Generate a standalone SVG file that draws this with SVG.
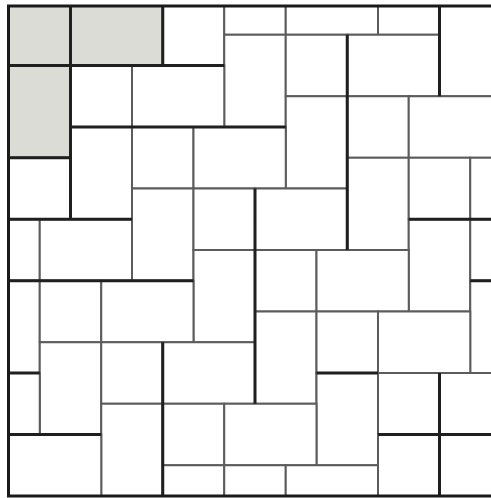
<svg xmlns="http://www.w3.org/2000/svg" width="491" height="498" viewBox="0 0 491 498">
<style>
.t{fill:#ffffff;stroke:#5c5c5c;stroke-width:2;vector-effect:non-scaling-stroke}
.g{fill:#dcdcd7}
.k{stroke:#1f1f1f;stroke-width:3;vector-effect:non-scaling-stroke;fill:none}
.f{stroke:#1a1a1a;stroke-width:3;fill:none}
</style>
<defs>
<clipPath id="frame"><rect x="9" y="6" width="482" height="490"/></clipPath>
</defs>
<rect x="0" y="0" width="491" height="498" fill="#ffffff"/>
<g id="tiles" clip-path="url(#frame)">
<g transform="translate(9 4) scale(30.75)">
<rect class="t" x="12" y="-2" width="2" height="3"/>
<rect class="t" x="14" y="0" width="2" height="3"/>
<rect class="t" x="5" y="-1" width="2" height="3"/>
<rect class="t" x="7" y="-1" width="2" height="2"/>
<rect class="t" x="9" y="-1" width="3" height="2"/>
<rect class="t" x="7" y="1" width="2" height="3"/>
<rect class="t" x="9" y="1" width="2" height="2"/>
<rect class="t" x="11" y="1" width="3" height="2"/>
<rect class="t" x="9" y="3" width="2" height="3"/>
<rect class="t" x="11" y="3" width="2" height="2"/>
<rect class="t" x="13" y="3" width="3" height="2"/>
<rect class="t" x="11" y="5" width="2" height="3"/>
<rect class="t" x="13" y="5" width="2" height="2"/>
<rect class="t" x="15" y="5" width="3" height="2"/>
<rect class="t" x="13" y="7" width="2" height="3"/>
<rect class="t" x="15" y="7" width="2" height="2"/>
<rect class="t" x="15" y="9" width="2" height="3"/>
<rect class="t g" x="0" y="0" width="2" height="2"/>
<rect class="t g" x="2" y="0" width="3" height="2"/>
<rect class="t g" x="0" y="2" width="2" height="3"/>
<rect class="t" x="2" y="2" width="2" height="2"/>
<rect class="t" x="4" y="2" width="3" height="2"/>
<rect class="t" x="2" y="4" width="2" height="3"/>
<rect class="t" x="4" y="4" width="2" height="2"/>
<rect class="t" x="6" y="4" width="3" height="2"/>
<rect class="t" x="4" y="6" width="2" height="3"/>
<rect class="t" x="6" y="6" width="2" height="2"/>
<rect class="t" x="8" y="6" width="3" height="2"/>
<rect class="t" x="6" y="8" width="2" height="3"/>
<rect class="t" x="8" y="8" width="2" height="2"/>
<rect class="t" x="10" y="8" width="3" height="2"/>
<rect class="t" x="8" y="10" width="2" height="3"/>
<rect class="t" x="10" y="10" width="2" height="2"/>
<rect class="t" x="12" y="10" width="3" height="2"/>
<rect class="t" x="10" y="12" width="2" height="3"/>
<rect class="t" x="12" y="12" width="2" height="2"/>
<rect class="t" x="14" y="12" width="3" height="2"/>
<rect class="t" x="12" y="14" width="2" height="3"/>
<rect class="t" x="14" y="14" width="2" height="2"/>
<rect class="t" x="-1" y="5" width="3" height="2"/>
<rect class="t" x="-1" y="7" width="2" height="2"/>
<rect class="t" x="1" y="7" width="3" height="2"/>
<rect class="t" x="-1" y="9" width="2" height="3"/>
<rect class="t" x="1" y="9" width="2" height="2"/>
<rect class="t" x="3" y="9" width="3" height="2"/>
<rect class="t" x="1" y="11" width="2" height="3"/>
<rect class="t" x="3" y="11" width="2" height="2"/>
<rect class="t" x="5" y="11" width="3" height="2"/>
<rect class="t" x="3" y="13" width="2" height="3"/>
<rect class="t" x="5" y="13" width="2" height="2"/>
<rect class="t" x="7" y="13" width="3" height="2"/>
<rect class="t" x="5" y="15" width="2" height="3"/>
<rect class="t" x="7" y="15" width="2" height="2"/>
<rect class="t" x="9" y="15" width="3" height="2"/>
<rect class="t" x="-2" y="12" width="3" height="2"/>
<rect class="t" x="0" y="14" width="3" height="2"/>
<path class="k" d="M2 0V7M5 0V2M0 2H7M2 4H9M0 5H2M0 7H4M0 9H6M0 12H1M0 14H3M5 11V16M11 1V8M14 0V3M8 6V13M13 7H16M15 9H16M10 12H12M14 12V16M12 14H16"/>
</g>
</g>
<path id="border" class="f" d="M491 6H8.5V496H491"/>
</svg>
